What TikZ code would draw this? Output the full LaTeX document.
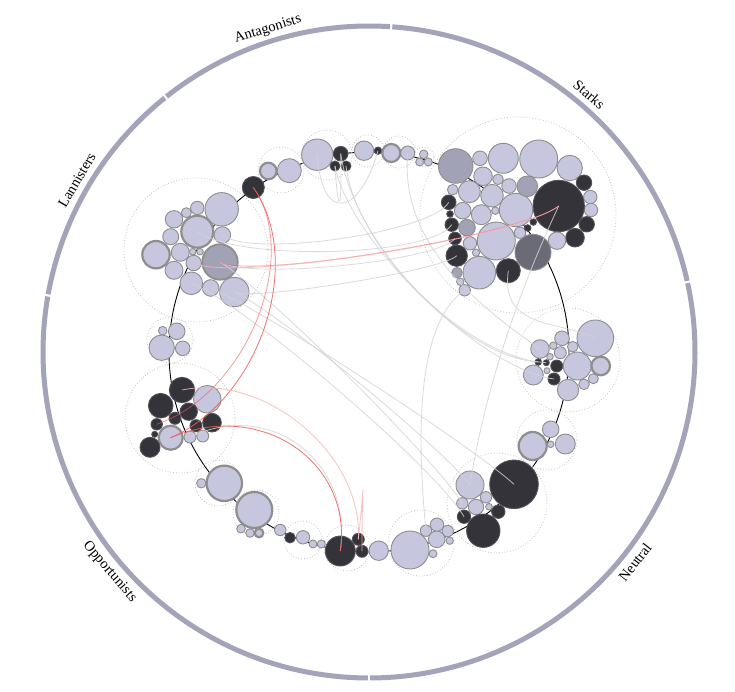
\documentclass[tikz,border=0pt]{standalone}
\usepackage{fontspec}
\setmainfont{Liberation Serif}
\usetikzlibrary{calc}
\definecolor{ringc}{HTML}{A3A3BA}
\definecolor{ltc}{HTML}{C6C6DF}
\definecolor{grc}{HTML}{A2A2B6}
\definecolor{slc}{HTML}{6B6B78}
\definecolor{dkc}{HTML}{34333A}
\definecolor{bdc}{HTML}{8E8E8E}
\definecolor{dotc}{HTML}{C4C4C4}
\definecolor{lnc}{HTML}{D4D4D4}
\definecolor{redc}{HTML}{F05A5A}
\newcommand\mybub[5]{\node[#1,minimum size=2*#5] (#2) at (#3,#4) {};}
\newcommand\lnk[4]{\draw[#1] (#2.center) .. controls ($(#2.center)!#4!(ctr)$) and ($(#3.center)!#4!(ctr)$) .. (#3.center);}
\begin{document}
\begin{tikzpicture}[x=1pt,y=-1pt,
  bub/.style={circle,inner sep=0pt,outer sep=0pt,draw=bdc,line width=0.9pt},
  lt/.style={bub,fill=ltc},
  ltk/.style={bub,fill=ltc,line width=2.2pt},
  gr/.style={bub,fill=grc},
  grk/.style={bub,fill=grc,line width=1.8pt},
  sl/.style={bub,fill=slc},
  dk/.style={bub,fill=dkc,draw=dkc!85!white},
  grp/.style={draw=dotc,line width=0.8pt,dash pattern=on 0.8pt off 2pt},
  ringseg/.style={draw=ringc,line width=5pt},
  lab/.style={font=\fontsize{14.5}{17}\selectfont,inner sep=0pt},
  gline/.style={draw=lnc,line width=0.8pt,opacity=0.85},
  rline/.style={draw=redc,line width=0.8pt,opacity=0.85},
  pline/.style={draw=redc!45!white,line width=0.8pt,opacity=0.85},
]
\fill[white] (0,0) rectangle (735,692);
\useasboundingbox (0,0) rectangle (735,692);
\coordinate (ctr) at (369,352);

% outer ring
\draw[ringseg] plot[domain=12.6:85.9,samples=80] ({369+326*cos(\x)},{352-326*sin(\x)});
\draw[ringseg] plot[domain=86.3:128.4,samples=60] ({369+326*cos(\x)},{352-326*sin(\x)});
\draw[ringseg] plot[domain=128.8:169.8,samples=60] ({369+326*cos(\x)},{352-326*sin(\x)});
\draw[ringseg] plot[domain=170.2:269.8,samples=100] ({369+326*cos(\x)},{352-326*sin(\x)});
\draw[ringseg] plot[domain=270.2:372.2,samples=100] ({369+326*cos(\x)},{352-326*sin(\x)});

\node[lab,rotate=-40.5] (tS) at ({369+339*cos(49.5)},{352-339*sin(49.5)}) {Starks};
\node[lab,rotate=17.4] (tA) at ({369+338*cos(107.4)},{352-338*sin(107.4)}) {Antagonists};
\node[lab,rotate=59.5] (tL) at ({369+339*cos(149.5)},{352-339*sin(149.5)}) {Lannisters};
\node[lab,rotate=-49.7] (tO) at ({369+340*cos(220.3)},{352-340*sin(220.3)}) {Opportunists};
\node[lab,rotate=51.7] (tN) at ({369+339*cos(321.7)},{352-339*sin(321.7)}) {Neutral};

% inner path
\draw[black,line width=0.9pt] (ctr) circle[radius=200];

% group outlines
\draw[grp] (518,215) circle[radius=98];
\draw[grp] (196,250) circle[radius=72];
\draw[grp] (568,360) circle[radius=52];
\draw[grp] (547,440) circle[radius=30];
\draw[grp] (497,503) circle[radius=50];
\draw[grp] (421,543) circle[radius=33];
\draw[grp] (347,548) circle[radius=23];
\draw[grp] (303,540) circle[radius=19];
\draw[grp] (256,513) circle[radius=23];
\draw[grp] (218,483) circle[radius=23];
\draw[grp] (180,418) circle[radius=55];
\draw[grp] (170,340) circle[radius=23];
\draw[grp] (281,170) circle[radius=23];
\draw[grp] (327,155) circle[radius=25];
\draw[grp] (368,151) circle[radius=16];
\draw[grp] (399,152) circle[radius=16];
\draw[grp] (424,157) circle[radius=10];

% Starks
\mybub{gr}{s1}{455.7}{166}{17.3}
\mybub{lt}{s2}{480}{158.3}{7.3}
\mybub{lt}{s3}{503.3}{158.3}{15}
\mybub{lt}{s4}{538.7}{159}{19}
\mybub{lt}{s5}{569.7}{168}{12.7}
\mybub{dk}{s6}{584}{182.7}{7.7}
\mybub{lt}{s7}{590.3}{197}{6.7}
\mybub{lt}{s8}{591}{210}{6.7}
\mybub{dk}{s9}{586.7}{224.3}{7.7}
\mybub{dk}{s10}{558.7}{206}{25.7}
\mybub{dk}{s11}{575}{237.7}{9.3}
\mybub{lt}{s12}{557}{240.7}{8.7}
\mybub{sl}{s13}{533}{252.3}{18}
\mybub{dk}{s14}{508.3}{270.7}{12}
\mybub{lt}{s15}{479.3}{272.7}{16.3}
\mybub{gr}{s16}{457}{272.7}{5.3}
\mybub{lt}{s17}{460.3}{281.7}{3.7}
\mybub{lt}{s18}{464.7}{290.3}{5.7}
\mybub{dk}{s19}{456.7}{255.7}{10.7}
\mybub{lt}{s20}{470}{243.3}{6.7}
\mybub{lt}{s21}{476}{252.7}{3.7}
\mybub{lt}{s22}{496.3}{241}{19}
\mybub{lt}{s23}{520}{232.7}{5.7}
\mybub{dk}{s24}{527.7}{228}{3.3}
\mybub{dk}{s25}{533.3}{222}{3.3}
\mybub{lt}{s26}{516}{210}{16.7}
\mybub{gr}{s27}{527.3}{186.3}{10.3}
\mybub{lt}{s28}{509}{186}{7.3}
\mybub{lt}{s29}{498}{179.3}{5.3}
\mybub{lt}{s30}{483}{176.3}{9.3}
\mybub{lt}{s31}{492}{195.7}{11.3}
\mybub{lt}{s32}{469.3}{191.7}{11}
\mybub{lt}{s33}{452.7}{189.7}{5.3}
\mybub{dk}{s34}{448.7}{202.3}{7.3}
\mybub{lt}{s35}{462.7}{210.7}{8.3}
\mybub{lt}{s36}{481.3}{214.7}{10}
\mybub{lt}{s37}{495.3}{210.7}{3.7}
\mybub{dk}{s38}{450}{214}{3.3}
\mybub{dk}{s39}{451.7}{224.7}{6.7}
\mybub{gr}{s40}{467}{227.7}{8.3}
\mybub{dk}{s41}{455}{238.5}{6.3}

% Antagonists
\mybub{dk}{a1}{253.3}{187.5}{11}
\mybub{ltk}{a2}{268.3}{171}{8.3}
\mybub{lt}{a3}{289.3}{170.7}{12}
\mybub{lt}{a4}{317.3}{154.7}{15.7}
\mybub{dk}{a5}{340.7}{153.7}{7.3}
\mybub{dk}{a6}{335}{166}{5}
\mybub{dk}{a7}{346}{166}{5}
\mybub{lt}{a8}{364}{150.7}{9.7}
\mybub{dk}{a9}{378}{150.7}{3.7}
\mybub{ltk}{a10}{391.3}{153}{9}
\mybub{lt}{a11}{407.7}{153}{7}
\mybub{lt}{a12}{423.7}{154.3}{4.3}
\mybub{lt}{a13}{419.7}{162}{4}
\mybub{lt}{a14}{428.3}{162}{4}

% Lannisters
\mybub{lt}{l1}{221.7}{209.3}{16.7}
\mybub{lt}{l2}{197.3}{208}{6.7}
\mybub{lt}{l3}{186.3}{212.7}{5}
\mybub{lt}{l4}{174}{219.3}{8.7}
\mybub{ltk}{l5}{197.3}{231.7}{16}
\mybub{lt}{l6}{222.3}{235}{8.3}
\mybub{lt}{l7}{170.7}{236.7}{8}
\mybub{ltk}{l8}{156}{254.7}{13.7}
\mybub{lt}{l9}{180.3}{252.3}{9}
\mybub{lt}{l10}{192.7}{251.7}{3.3}
\mybub{lt}{l11}{200}{251.7}{3.3}
\mybub{grk}{l12}{220}{262}{17.7}
\mybub{lt}{l13}{193.7}{263}{7.7}
\mybub{lt}{l14}{174}{270.3}{9}
\mybub{lt}{l15}{191.3}{283.3}{11.3}
\mybub{lt}{l16}{210.7}{288}{8.3}
\mybub{lt}{l17}{234.3}{292}{14.7}

% Opportunists
\mybub{lt}{o1}{162.7}{330.7}{4.3}
\mybub{lt}{o2}{176.7}{331.3}{8.3}
\mybub{lt}{o3}{161.7}{347.7}{12.7}
\mybub{lt}{o4}{182.7}{348.3}{7.3}
\mybub{dk}{o5}{182}{390}{12.7}
\mybub{lt}{o6}{207.3}{399.3}{13.7}
\mybub{dk}{o7}{160.7}{405.7}{12.3}
\mybub{dk}{o8}{188.7}{411.7}{8.7}
\mybub{dk}{o9}{175}{418.3}{6}
\mybub{dk}{o10}{212}{422.7}{9.3}
\mybub{dk}{o11}{156.7}{424.3}{5.7}
\mybub{dk}{o12}{196}{425.7}{6}
\mybub{dk}{o13}{154.7}{434.3}{3}
\mybub{ltk}{o14}{170.7}{437.7}{12}
\mybub{lt}{o15}{190}{437}{6}
\mybub{lt}{o16}{202.7}{436}{6}
\mybub{dk}{o17}{150}{447.3}{10}
\mybub{lt}{o18}{201.3}{483.3}{4.7}
\mybub{ltk}{o19}{224.3}{483.3}{17.7}
\mybub{ltk}{o20}{254.3}{510}{18}
\mybub{lt}{o21}{241}{528.7}{4.3}
\mybub{lt}{o22}{250}{533}{4.3}
\mybub{ltk}{o23}{259}{533}{4.3}
\mybub{lt}{o24}{280.3}{530}{5.7}
\mybub{dk}{o25}{290}{537.7}{5.3}
\mybub{lt}{o26}{303}{537.3}{6.7}
\mybub{lt}{o27}{313}{544}{4}
\mybub{lt}{o28}{321.3}{544}{4}
\mybub{dk}{o29}{340.3}{551}{15}
\mybub{dk}{o30}{358.3}{539.3}{6}
\mybub{dk}{o31}{362}{551.3}{6}

% Neutral
\mybub{lt}{n1}{378.7}{550.7}{9.7}
\mybub{lt}{n2}{410}{550}{19}
\mybub{lt}{n3}{426}{530.7}{5.7}
\mybub{lt}{n4}{437}{524.7}{6.7}
\mybub{lt}{n5}{447.7}{531}{5.7}
\mybub{lt}{n6}{436.7}{539.3}{8.3}
\mybub{lt}{n7}{449.7}{540.7}{3.7}
\mybub{lt}{n8}{433}{553.7}{4}
\mybub{dk}{n9}{514}{484.3}{24.3}
\mybub{lt}{n10}{470}{485}{14}
\mybub{lt}{n11}{486}{497.3}{5.7}
\mybub{lt}{n12}{462.3}{503.3}{5.7}
\mybub{lt}{n13}{476}{507}{7.7}
\mybub{lt}{n14}{489}{506.7}{3.3}
\mybub{dk}{n15}{464}{516.7}{6.7}
\mybub{dk}{n16}{498.3}{511.7}{6.7}
\mybub{dk}{n17}{483.3}{530.7}{16.7}
\mybub{lt}{n18}{550.7}{429.3}{8.3}
\mybub{ltk}{n19}{532.7}{446}{14}
\mybub{lt}{n20}{565.3}{444}{10}
\mybub{lt}{n21}{550.7}{444.3}{3.3}
\mybub{lt}{n22}{595.3}{338.3}{18.3}
\mybub{lt}{n23}{562}{338.3}{7.3}
\mybub{lt}{n24}{540}{349}{9.3}
\mybub{lt}{n25}{553.3}{345.7}{3.7}
\mybub{lt}{n26}{572.7}{346.7}{5.3}
\mybub{lt}{n27}{560.3}{352.7}{6}
\mybub{lt}{n28}{550}{356.7}{3.3}
\mybub{dk}{n29}{538.3}{362}{3.3}
\mybub{dk}{n30}{546.3}{362.7}{3}
\mybub{dk}{n31}{556.7}{366}{6}
\mybub{lt}{n32}{577.3}{366}{14}
\mybub{ltk}{n33}{600.7}{366}{9.3}
\mybub{lt}{n34}{533.3}{375}{10}
\mybub{dk}{n35}{554}{379}{6}
\mybub{lt}{n36}{547}{370.7}{3}
\mybub{lt}{n37}{593.3}{378.7}{5}
\mybub{lt}{n38}{584}{384.3}{5.3}
\mybub{lt}{n39}{568}{390}{10.7}

% connectors: grey
\lnk{gline}{l6}{s34}{0.2}
\lnk{gline}{l5}{s39}{0.25}
\lnk{gline}{l17}{s19}{0.15}
\lnk{gline}{l12}{s41}{0.2}
\lnk{gline}{l16}{n9}{0.3}
\lnk{gline}{l12}{n12}{0.3}
\lnk{gline}{l17}{n10}{0.3}
\lnk{gline}{l15}{n15}{0.3}
\lnk{gline}{a5}{n29}{0.45}
\lnk{gline}{a7}{n30}{0.45}
\lnk{gline}{a6}{n35}{0.4}
\lnk{gline}{o15}{o29}{0.45}
\draw[gline] (a4.center) .. controls (322,225) and (360,215) .. (a9.center);
\draw[gline] (a6.center) .. controls (338,215) and (342,215) .. (a5.center);
\draw[gline] (n3.center) .. controls (415,420) and (420,320) .. (s18.center);
\draw[gline] (s14.center) .. controls (500,330) and (560,320) .. (n22.center);
\draw[gline] (s10.center) .. controls (505,320) and (480,420) .. (n10.center);
\draw[gline] (a11.center) .. controls (400,240) and (470,300) .. (n24.center);

% connectors: red
\lnk{rline}{a1}{o14}{0.45}
\lnk{rline,opacity=0.6}{a1}{o11}{0.42}
\lnk{rline}{o14}{o29}{0.45}
\lnk{pline}{o5}{o30}{0.45}
\draw[pline] (o30.center) .. controls (366,470) and (362,470) .. (o31.center);
\lnk{rline,opacity=0.55}{l12}{s10}{0.2}
\lnk{pline}{l13}{s10}{0.22}
\end{tikzpicture}
\end{document}
